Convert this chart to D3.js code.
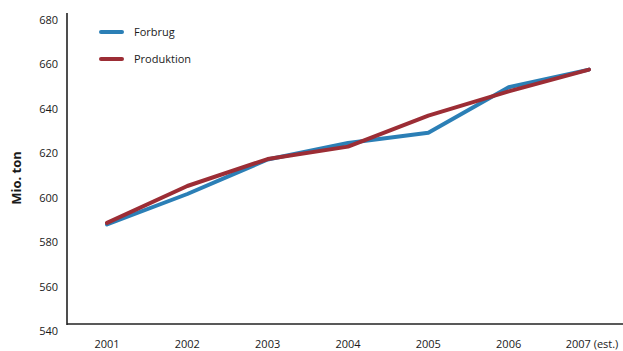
<!DOCTYPE html>
<html>
<head>
<meta charset="utf-8">
<script src="https://cdn.jsdelivr.net/npm/d3@7"></script>
<style>
  html, body { margin: 0; padding: 0; background: #fff; }
  svg { display: block; }
  text { font-family: "Open Sans", sans-serif; fill: #1a1a1a; }
</style>
</head>
<body>
<svg id="chart" width="623" height="351"></svg>
<script>
const years = ["2001", "2002", "2003", "2004", "2005", "2006", "2007 (est.)"];
const forbrug = [588.1, 601.8, 617.3, 624.7, 629.3, 649.8, 657.7];
const produktion = [588.8, 605.4, 617.5, 623.1, 637.0, 647.9, 657.7];
const yTicks = [540, 560, 580, 600, 620, 640, 660, 680];
const seriesNames = ["Forbrug", "Produktion"];
const seriesColors = ["#2b7fb6", "#9c2d35"];

const svg = d3.select("#chart");
const W = 623, H = 351;
const axisLeft = 67, axisBottom = 324, axisTop = 13;

const x = d3.scalePoint().domain(years).range([107, 589]);
const y = d3.scaleLinear().domain([540, 680]).range([331.5, 20]);

// axes frame
svg.append("line")
  .attr("x1", axisLeft).attr("x2", axisLeft)
  .attr("y1", axisTop).attr("y2", axisBottom + 1)
  .attr("stroke", "#222").attr("stroke-width", 1.6);
svg.append("line")
  .attr("x1", axisLeft).attr("x2", W)
  .attr("y1", axisBottom).attr("y2", axisBottom)
  .attr("stroke", "#222").attr("stroke-width", 1.6);

// y tick labels
svg.append("g").selectAll("text").data(yTicks).join("text")
  .attr("x", 58).attr("y", d => y(d))
  .attr("dy", "0.35em")
  .attr("text-anchor", "end")
  .attr("font-size", 11)
  .text(d => d);

// x tick labels
svg.append("g").selectAll("text").data(years).join("text")
  .attr("x", d => x(d) + (d.length > 4 ? 3 : 0)).attr("y", 344.5)
  .attr("dy", "0.35em")
  .attr("text-anchor", "middle")
  .attr("font-size", 11)
  .text(d => d);

// y axis title
svg.append("text")
  .attr("transform", "translate(21,178) rotate(-90)")
  .attr("text-anchor", "middle")
  .attr("font-size", 13)
  .attr("font-weight", "bold")
  .text("Mio. ton");

const line = d3.line().x((d, i) => x(years[i])).y(d => y(d));
[forbrug, produktion].forEach((s, k) => {
  svg.append("path")
    .attr("d", line(s))
    .attr("fill", "none")
    .attr("stroke", seriesColors[k])
    .attr("stroke-width", 4)
    .attr("stroke-linejoin", "round")
    .attr("stroke-linecap", "round");
});

// legend
const legend = svg.append("g");
seriesNames.forEach((name, i) => {
  const ly = 32 + i * 27;
  legend.append("line")
    .attr("x1", 101).attr("x2", 122)
    .attr("y1", ly).attr("y2", ly)
    .attr("stroke", seriesColors[i])
    .attr("stroke-width", 4)
    .attr("stroke-linecap", "round");
  legend.append("text")
    .attr("x", 134).attr("y", ly)
    .attr("dy", "0.35em")
    .attr("font-size", 11)
    .text(name);
});
</script>
</body>
</html>
